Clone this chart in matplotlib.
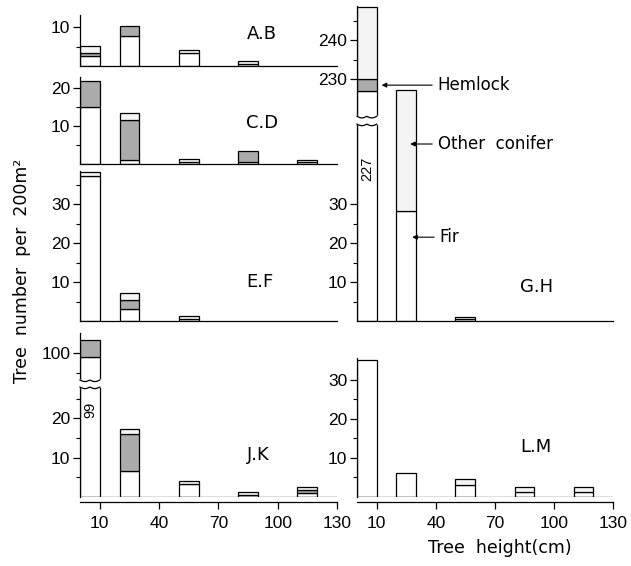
import numpy as np
import matplotlib
matplotlib.use("Agg")
import matplotlib.pyplot as plt
from matplotlib.ticker import FixedLocator

W, H = 631, 566

# left edge of each height class (cm), bars are 10 cm wide
classes = [0, 20, 50, 80, 110]
x_ticks = [10, 40, 70, 100, 130]

# tree numbers per 200 m2 : fir / hemlock / other conifer
ab_fir = [2.6, 7.7, 3.3, 0.4, 0]
ab_hem = [0.8, 2.6, 0, 0, 0]
ab_oth = [1.7, 0, 0.8, 0.8, 0]

cd_fir = [15.2, 1.1, 0.5, 0.5, 0.5]
cd_hem = [6.7, 10.6, 0, 3.0, 0]
cd_oth = [0, 1.7, 0.8, 0, 0.7]

ef_fir = [37.2, 3.0, 0.5, 0, 0]
ef_hem = [0, 2.4, 0, 0, 0]
ef_oth = [1.1, 1.7, 0.8, 0, 0]

jk_fir = [99, 6.6, 3.2, 0.5, 1.0]
jk_hem = [4.4, 9.4, 0, 0, 0.6]
jk_oth = [0, 1.2, 0.9, 0.7, 0.8]

gh_fir = [227, 28.3, 0.5, 0, 0]
gh_hem = [3, 0, 0, 0, 0]
gh_oth = [18.5, 30.9, 0.6, 0, 0]

lm_fir = [35, 6.2, 3.0, 1.2, 1.1]
lm_hem = [0, 0, 0, 0, 0]
lm_oth = [0, 0, 1.5, 1.2, 1.3]

# amount cut out of the tallest bar in the broken panels
jk_cut = 63.4
gh_cut = 168

FIR_C = "white"
HEM_C = "#ababab"
OTH_C = "#f4f4f4"

plt.rcParams["font.family"] = ["Liberation Sans", "DejaVu Sans"]

fig = plt.figure(figsize=(W / 100, H / 100), dpi=100)


def px_rect(x0, x1, top, base):
    return [x0 / W, 1 - base / H, (x1 - x0) / W, (base - top) / H]


def bars(ax, fir, hem, oth, cut=0.0):
    x = np.array(classes, float)
    fir = np.array(fir, float)
    hem = np.array(hem, float)
    oth = np.array(oth, float)
    fir[0] -= cut
    kw = dict(width=10, align="edge", edgecolor="black", linewidth=0.9, zorder=2)
    for h, b, c in [(fir, 0 * fir, FIR_C), (hem, fir, HEM_C), (oth, fir + hem, OTH_C)]:
        m = h > 0
        ax.bar(x[m], h[m], bottom=b[m], color=c, **kw)


def style(ax, top, major, labels, minor, bottom=False):
    ax.set_xlim(0, 130)
    ax.set_ylim(0, top)
    for s in ["top", "right"]:
        ax.spines[s].set_visible(False)
    for s in ["left", "bottom"]:
        ax.spines[s].set_linewidth(0.9)
    ax.yaxis.set_major_locator(FixedLocator(major))
    ax.set_yticklabels(labels)
    ax.yaxis.set_minor_locator(FixedLocator(minor))
    ax.tick_params(axis="y", which="major", length=5, width=0.9, pad=2, labelsize=12.5)
    ax.tick_params(axis="y", which="minor", length=3, width=0.8)
    if bottom:
        ax.spines["bottom"].set_position(("outward", 4))
        ax.set_xticks(x_ticks)
        ax.tick_params(axis="x", length=5, width=0.9, pad=5, labelsize=12.5)
        ax.axhline(0, color="black", lw=0.9, zorder=3)
    else:
        ax.set_xticks([])


def draw_break(ax, lo, hi, amp):
    x = np.linspace(0, 10, 60)
    wave = amp * np.abs(np.sin(np.pi * x / 5))
    xs = np.concatenate([[-0.9], x, [10.9], [10.9], x[::-1], [-0.9]])
    ys = np.concatenate([[hi], hi - wave, [hi], [lo], (lo - wave)[::-1], [lo]])
    ax.fill(xs, ys, color="white", zorder=5, clip_on=False)
    ax.plot(x, hi - wave, color="black", lw=0.9, zorder=6, clip_on=False)
    ax.plot(x, lo - wave, color="black", lw=0.9, zorder=6, clip_on=False)


ax_ab = fig.add_axes(px_rect(80, 337, 15, 66))
ax_cd = fig.add_axes(px_rect(80, 337, 77, 164.3))
ax_ef = fig.add_axes(px_rect(80, 337, 171, 321))
ax_jk = fig.add_axes(px_rect(80, 337, 333, 496.7))
ax_gh = fig.add_axes(px_rect(357, 613, 6, 321))
ax_lm = fig.add_axes(px_rect(357, 613, 358, 496.7))

bars(ax_ab, ab_fir, ab_hem, ab_oth)
style(ax_ab, 13.1, [10], ["10"], [5])

bars(ax_cd, cd_fir, cd_hem, cd_oth)
style(ax_cd, 23, [10, 20], ["10", "20"], [5, 15])

bars(ax_ef, ef_fir, ef_hem, ef_oth)
style(ax_ef, 38.5, [10, 20, 30], ["10", "20", "30"], [5, 15, 25, 35])

bars(ax_jk, jk_fir, jk_hem, jk_oth, cut=jk_cut)
style(ax_jk, 41.8, [10, 20, 100 - jk_cut], ["10", "20", "100"],
      [5, 15, 25, 95 - jk_cut], bottom=True)
draw_break(ax_jk, 28, 29.8, 0.4)
ax_jk.text(5, 22.1, f"{jk_fir[0]:.0f}", rotation=90, ha="center", va="center",
           fontsize=10.5, zorder=7)

bars(ax_gh, gh_fir, gh_hem, gh_oth, cut=gh_cut)
style(ax_gh, 80.8, [10, 20, 30, 230 - gh_cut, 240 - gh_cut],
      ["10", "20", "30", "230", "240"],
      [5, 15, 25, 235 - gh_cut, 245 - gh_cut])
draw_break(ax_gh, 50.5, 52.5, 0.4)
ax_gh.text(5, 39, f"{gh_fir[0]:.0f}", rotation=90, ha="center", va="center",
           fontsize=10.5, zorder=7)

bars(ax_lm, lm_fir, lm_hem, lm_oth)
style(ax_lm, 35.6, [10, 20, 30], ["10", "20", "30"], [5, 15, 25], bottom=True)

# panel names
ax_ab.text(92, 8.2, "A.B", ha="center", va="center", fontsize=13, family="DejaVu Sans")
ax_cd.text(92, 10.9, "C.D", ha="center", va="center", fontsize=13, family="DejaVu Sans")
ax_ef.text(91, 10.0, "E.F", ha="center", va="center", fontsize=13, family="DejaVu Sans")
ax_jk.text(90, 10.6, "J.K", ha="center", va="center", fontsize=13, family="DejaVu Sans")
ax_gh.text(91, 8.7, "G.H", ha="center", va="center", fontsize=13, family="DejaVu Sans")
ax_lm.text(91, 12.7, "L.M", ha="center", va="center", fontsize=13, family="DejaVu Sans")

# species labels with arrows
arrow = dict(arrowstyle="-|>", lw=0.8, color="black", mutation_scale=7,
             shrinkA=2, shrinkB=0)
hem_y = gh_fir[0] + gh_hem[0] / 2 - gh_cut
ax_gh.annotate("Hemlock", xy=(12.5, hem_y), xytext=(41, hem_y),
               ha="left", va="center", fontsize=12, family="DejaVu Sans",
               arrowprops=arrow, annotation_clip=False)
ax_gh.annotate("Other  conifer", xy=(27, 45.4), xytext=(41, 45.4),
               ha="left", va="center", fontsize=12, family="DejaVu Sans",
               arrowprops=arrow)
ax_gh.annotate("Fir", xy=(28, 21.5), xytext=(42, 21.5),
               ha="left", va="center", fontsize=12, family="DejaVu Sans",
               arrowprops=arrow)

fig.text(22 / W, 1 - 271 / H, "Tree  number  per  200m²", rotation=90,
         ha="center", va="center", fontsize=12.5, family="DejaVu Sans")
fig.text(500 / W, 1 - 548 / H, "Tree  height(cm)", ha="center", va="center",
         fontsize=12.5, family="DejaVu Sans")

fig.savefig("out.png", dpi=100)
